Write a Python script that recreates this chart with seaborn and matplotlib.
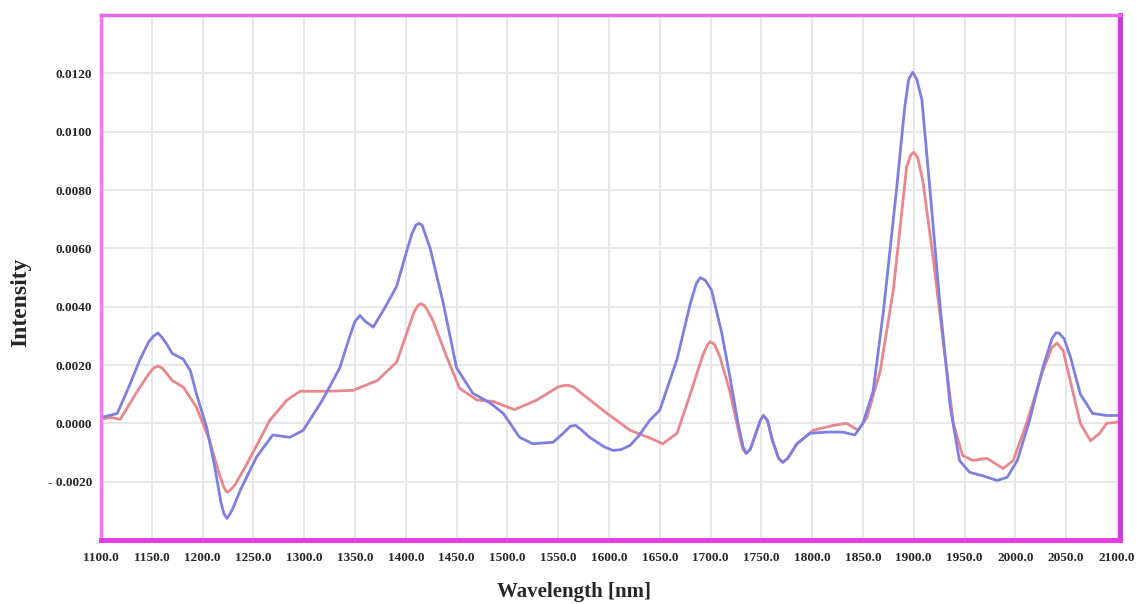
import numpy as np
import pandas as pd
import matplotlib
matplotlib.use('Agg')
import matplotlib.pyplot as plt
from matplotlib.ticker import FuncFormatter, MultipleLocator
import seaborn as sns

# blue spectrum
blue_nm = [1100, 1116, 1128, 1138, 1147, 1152, 1156, 1160, 1165, 1170, 1181, 1188, 1194, 1204, 1212, 1218,
           1221, 1224, 1227, 1230, 1237, 1253, 1269, 1286, 1299, 1318, 1335, 1345, 1350, 1355, 1360, 1368,
           1380, 1391, 1400, 1406, 1410, 1413, 1416, 1420, 1424, 1437, 1450, 1466, 1483, 1496, 1512, 1525,
           1545, 1555, 1562, 1567, 1572, 1581, 1595, 1604, 1612, 1621, 1630, 1640, 1650, 1667, 1680, 1686,
           1690, 1695, 1701, 1711, 1719, 1727, 1732, 1735, 1739, 1744, 1749, 1752, 1756, 1761, 1767, 1771,
           1776, 1785, 1798, 1815, 1830, 1842, 1850, 1860, 1870, 1883, 1891, 1895, 1899, 1903, 1908, 1916,
           1926, 1936, 1945, 1955, 1968, 1982, 1992, 2002, 2014, 2027, 2036, 2040, 2043, 2048, 2054, 2064,
           2076, 2090, 2103]
blue_val = [0.0002, 0.00034, 0.0013, 0.00216, 0.0028, 0.0030, 0.0031, 0.00295, 0.0027, 0.0024, 0.0022,
            0.0018, 0.0010, -0.00014, -0.0015, -0.0027, -0.0031, -0.00326, -0.0031, -0.0029, -0.0023,
            -0.00116, -0.0004, -0.00048, -0.00024, 0.0008, 0.0019, 0.0030, 0.0035, 0.0037, 0.0035, 0.0033,
            0.0040, 0.0047, 0.0058, 0.0065, 0.0068, 0.00686, 0.0068, 0.0064, 0.0060, 0.0041, 0.0019,
            0.00103, 0.0007, 0.00034, -0.00048, -0.0007, -0.00065, -0.00034, -0.0001, -0.00007, -0.0002,
            -0.00048, -0.0008, -0.00093, -0.0009, -0.00075, -0.0004, 0.0001, 0.00045, 0.0022, 0.0041,
            0.0048, 0.0050, 0.0049, 0.00456, 0.0031, 0.0016, 0.0, -0.0008, -0.00103, -0.0009, -0.0004,
            0.0001, 0.00027, 0.0001, -0.0006, -0.0012, -0.00134, -0.0012, -0.0007, -0.00034, -0.0003,
            -0.0003, -0.0004, 0.0, 0.0011, 0.0038, 0.0080, 0.0108, 0.0118, 0.01204, 0.0118, 0.0111, 0.0080,
            0.0040, 0.00055, -0.00127, -0.00168, -0.0018, -0.00196, -0.00185, -0.00127, 0.0001, 0.0019,
            0.0029, 0.0031, 0.0031, 0.0029, 0.0023, 0.0010, 0.00034, 0.00027, 0.00027]

# red spectrum
red_nm = [1100, 1110, 1119, 1135, 1147, 1152, 1156, 1160, 1165, 1170, 1181, 1194, 1207, 1216, 1221, 1224,
          1227, 1232, 1244, 1266, 1283, 1296, 1322, 1348, 1372, 1391, 1400, 1408, 1412, 1415, 1418, 1421,
          1427, 1440, 1453, 1470, 1486, 1507, 1529, 1550, 1556, 1560, 1565, 1574, 1598, 1621, 1640, 1653,
          1667, 1680, 1692, 1697, 1700, 1704, 1709, 1719, 1729, 1732, 1735, 1739, 1744, 1749, 1752, 1756,
          1761, 1767, 1771, 1776, 1785, 1801, 1821, 1834, 1845, 1854, 1867, 1880, 1893, 1897, 1900, 1904,
          1909, 1919, 1929, 1939, 1948, 1958, 1972, 1988, 1998, 2011, 2027, 2036, 2041, 2047, 2054, 2064,
          2074, 2083, 2090, 2103]
red_val = [0.00015, 0.0002, 0.00014, 0.00106, 0.0017, 0.0019, 0.00196, 0.0019, 0.0017, 0.00147, 0.00124,
           0.00055, -0.0006, -0.0017, -0.0022, -0.00237, -0.0023, -0.0021, -0.00137, 0.0001, 0.0008,
           0.0011, 0.0011, 0.00113, 0.00147, 0.0021, 0.0030, 0.0038, 0.00405, 0.0041, 0.00405, 0.0039,
           0.0035, 0.0023, 0.0012, 0.0008, 0.00075, 0.00047, 0.0008, 0.00125, 0.0013, 0.0013, 0.00125,
           0.001, 0.00034, -0.00024, -0.0005, -0.0007, -0.00034, 0.001, 0.0023, 0.0027, 0.0028, 0.0027,
           0.0023, 0.0011, -0.0005, -0.0009, -0.00103, -0.0009, -0.0004, 0.0001, 0.00027, 0.0001, -0.0006,
           -0.0012, -0.00134, -0.0012, -0.0007, -0.00024, -0.00007, 0.0, -0.00024, 0.0002, 0.0018, 0.0046,
           0.0088, 0.0092, 0.0093, 0.0091, 0.0083, 0.0057, 0.0028, 0.0, -0.0011, -0.00127, -0.0012,
           -0.00155, -0.00127, 0.0, 0.0018, 0.0026, 0.00275, 0.0025, 0.00147, 0.0, -0.0006, -0.00034, 0.0,
           0.00005]

blue_color = '#7f7fe2'
red_color = '#e9878d'

df_blue = pd.DataFrame({'nm': blue_nm, 'val': blue_val})
df_red = pd.DataFrame({'nm': red_nm, 'val': red_val})

sns.set_style('white')
plt.rcParams['font.family'] = ['Liberation Serif', 'DejaVu Serif']

fig = plt.figure(figsize=(11.44, 6.04), dpi=100)
ax = fig.add_axes([0.0883, 0.106, 0.8907, 0.869])

sns.lineplot(data=df_red, x='nm', y='val', color=red_color, linewidth=2.0, estimator=None, ax=ax,
             solid_joinstyle='round')
sns.lineplot(data=df_blue, x='nm', y='val', color=blue_color, linewidth=2.0, estimator=None, ax=ax,
             solid_joinstyle='round')

ax.set_xlim(1100, 2103)
ax.set_ylim(-0.0040, 0.0140)
ax.xaxis.set_major_locator(MultipleLocator(50))
ax.set_yticks(np.arange(-0.002, 0.0121, 0.002))
ax.xaxis.set_major_formatter(FuncFormatter(lambda v, p: '%.1f' % v))
ax.yaxis.set_major_formatter(FuncFormatter(
    lambda v, p: ('- %.4f' % abs(v)) if v < -1e-9 else '%.4f' % abs(v)))

ax.grid(True, color='#e6e6e6', linewidth=1.3)
ax.set_axisbelow(True)
ax.set_xlabel('')
ax.set_ylabel('')

for side, col, lw in [('left', '#f07cf0', 2.5), ('top', '#e866e8', 2.5),
                      ('bottom', '#e53be6', 3.5), ('right', '#c63ad6', 3.5)]:
    ax.spines[side].set_visible(True)
    ax.spines[side].set_color(col)
    ax.spines[side].set_linewidth(lw)

ax.tick_params(axis='both', which='major', length=2.5, width=2.5, color='#222222',
               labelsize=9.5, pad=6)
ax.tick_params(axis='y', pad=4)
for lab in ax.get_xticklabels() + ax.get_yticklabels():
    lab.set_fontweight('bold')

fig.text(0.502, 0.02, 'Wavelength [nm]', ha='center', va='center', fontsize=15, fontweight='bold')
fig.text(0.018, 0.50, 'Intensity', ha='center', va='center', rotation=90, fontsize=17, fontweight='bold')

fig.savefig('out.png', dpi=100, facecolor='white')
